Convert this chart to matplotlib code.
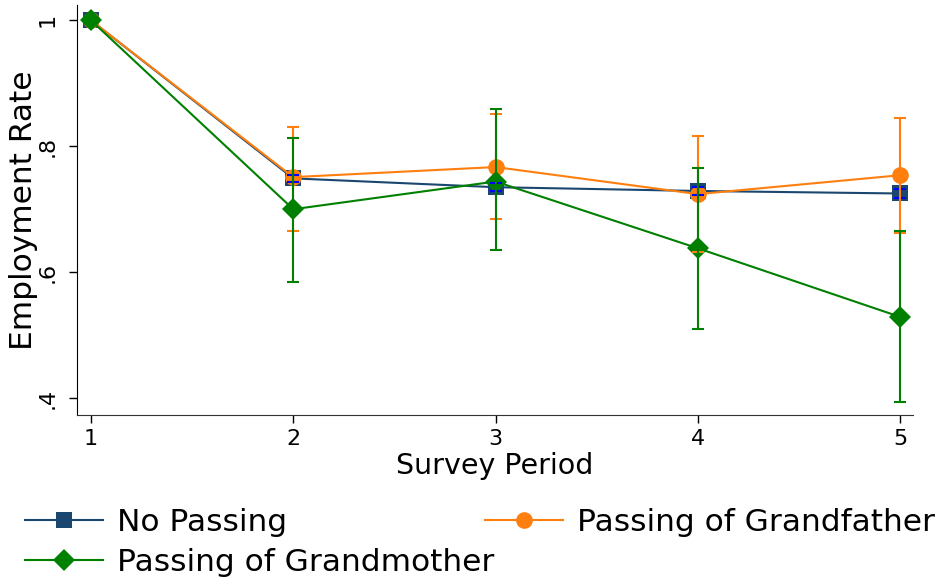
import matplotlib
matplotlib.use("Agg")
import matplotlib.pyplot as plt

# survey periods
periods = [1, 2, 3, 4, 5]

# employment rate by group, with 95% CI bounds
no_passing = [1.0, 0.749, 0.735, 0.729, 0.725]
no_passing_lo = [1.0, 0.743, 0.729, 0.722, 0.718]
no_passing_hi = [1.0, 0.755, 0.741, 0.736, 0.732]

grandfather = [1.0, 0.751, 0.767, 0.724, 0.754]
grandfather_lo = [1.0, 0.665, 0.684, 0.632, 0.662]
grandfather_hi = [1.0, 0.830, 0.851, 0.816, 0.845]

grandmother = [1.0, 0.700, 0.744, 0.638, 0.529]
grandmother_lo = [1.0, 0.584, 0.635, 0.510, 0.394]
grandmother_hi = [1.0, 0.813, 0.859, 0.765, 0.665]

ytick_vals = [0.4, 0.6, 0.8, 1.0]
ytick_labels = [".4", ".6", ".8", "1"]

navy = "#1a476f"
orange = "#ff7f0e"
green = "#008000"

fig = plt.figure(figsize=(9.43, 5.83), dpi=100)
ax = fig.add_axes([0.0817, 0.288, 0.8865, 0.703])

l1, = ax.plot(periods, no_passing, color=navy, lw=1.5, marker="s", ms=12, mew=0)
l2, = ax.plot(periods, grandfather, color=orange, lw=1.5, marker="o", ms=12, mew=0)
l3, = ax.plot(periods, grandmother, color=green, lw=1.5, marker="D", ms=11.5, mew=0)

def ci(vals, lo, hi, col):
    err = [[v - a for v, a in zip(vals, lo)], [b - v for v, b in zip(vals, hi)]]
    ax.errorbar(periods[1:], vals[1:], yerr=[err[0][1:], err[1][1:]], fmt="none",
                ecolor=col, elinewidth=1.5, capsize=4, capthick=1.5)

ci(no_passing, no_passing_lo, no_passing_hi, "#0000ff")
ci(grandfather, grandfather_lo, grandfather_hi, orange)
ci(grandmother, grandmother_lo, grandmother_hi, green)

ax.set_xlim(0.931, 5.064)
ax.set_ylim(0.373, 1.024)
ax.set_xticks(periods)
ax.set_yticks(ytick_vals)
ax.set_yticklabels(ytick_labels, rotation=90, va="center")
ax.tick_params(axis="both", labelsize=16, length=6, width=1)
ax.tick_params(axis="x", pad=4)
ax.tick_params(axis="y", pad=8)
ax.spines["top"].set_visible(False)
ax.spines["right"].set_visible(False)
ax.spines["bottom"].set_color("#333333")

ax.set_xlabel("Survey Period", fontsize=20.5, labelpad=2)
ax.set_ylabel("Employment Rate", fontsize=22.5)
ax.yaxis.set_label_coords(-0.047, 0.5)

leg1 = fig.legend([l1, l3], ["No Passing", "Passing of Grandmother"], loc="center left",
                  bbox_to_anchor=(0.0265, 0.0695), frameon=False, fontsize=22.5,
                  handlelength=2.5, handletextpad=0.45, labelspacing=0.38,
                  borderpad=0, borderaxespad=0)
leg2 = fig.legend([l2], ["Passing of Grandfather"], loc="center left",
                  bbox_to_anchor=(0.514, 0.104), frameon=False, fontsize=22.5,
                  handlelength=2.5, handletextpad=0.45, borderpad=0, borderaxespad=0)

fig.savefig("out.png", dpi=100)
